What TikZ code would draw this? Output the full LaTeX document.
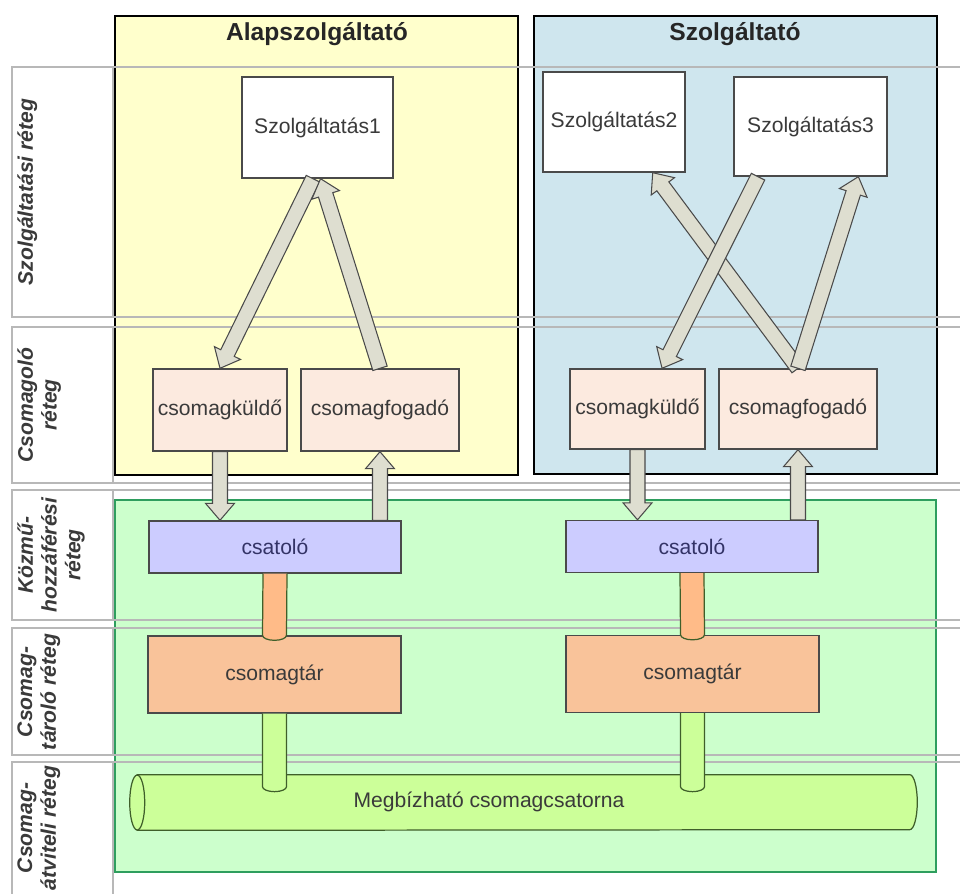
\documentclass[tikz,border=0pt]{standalone}
\usepackage{fontspec}
\setsansfont{Liberation Sans}
\usetikzlibrary{calc}
\definecolor{basefill}{HTML}{FFFFCC}
\definecolor{provfill}{HTML}{CFE6EE}
\definecolor{netfill}{HTML}{CCFFCC}
\definecolor{netline}{HTML}{2E9E5E}
\definecolor{packfill}{HTML}{FCEADF}
\definecolor{linkfill}{HTML}{CCCCFF}
\definecolor{storefill}{HTML}{F9C39A}
\definecolor{pipeorange}{HTML}{FFBB88}
\definecolor{chanfill}{HTML}{CCFF99}
\definecolor{chanline}{HTML}{3F5F2A}
\definecolor{bandline}{HTML}{B8B8B8}
\definecolor{boxline}{HTML}{4A4A4A}
\definecolor{arrowfill}{HTML}{DEDED0}
\definecolor{textgray}{HTML}{3A3A3A}
\definecolor{linktext}{HTML}{333366}
\tikzset{
  band/.style={draw=bandline,line width=0.8pt},
  layer/.style={font=\sffamily\bfseries\itshape\fontsize{12}{13.5}\selectfont,text=textgray,rotate=90,anchor=north,align=center,inner sep=0pt},
  owner/.style={draw=black,line width=1.6pt,inner sep=0pt},
  heading/.style={font=\sffamily\bfseries\fontsize{14}{16}\selectfont,text=black!85},
  service/.style={draw=boxline,fill=white,line width=0.8pt,font=\sffamily\fontsize{12}{14}\selectfont,text=textgray,inner sep=0pt},
  packer/.style={service,fill=packfill},
  link/.style={service,fill=linkfill,text=linktext,minimum width=5.04cm,minimum height=1.04cm},
  store/.style={service,fill=storefill,minimum width=5.06cm,minimum height=1.54cm},
  pipeline/.style={draw=chanline,line width=0.7pt},
  fatarr/.style={fill=arrowfill,draw=boxline,line width=0.6pt,line join=miter}
}
\newcommand{\fatarrow}[2]{%
  \coordinate (fah) at ($(#2)!0.34cm!(#1)$);
  \draw[fatarr] ($(#1)!0.15cm!90:(#2)$) -- ($(fah)!0.15cm!90:(#2)$) -- ($(fah)!0.29cm!90:(#2)$) -- (#2)
    -- ($(fah)!0.29cm!-90:(#2)$) -- ($(fah)!0.15cm!-90:(#2)$) -- ($(#1)!0.15cm!-90:(#2)$) -- cycle;}
\newcommand{\pipe}[3]{%
  \draw[pipeline,fill=#3] ($(#1)+(-12,0)$) -- ($(#2)+(-12,-5)$)
    arc[start angle=180,end angle=360,x radius=0.24cm,y radius=0.1cm] -- ($(#1)+(12,0)$);}

\begin{document}
\begin{tikzpicture}[x=0.02cm,y=-0.02cm]
\useasboundingbox (0,0) rectangle (960,893);
\clip (0,0) rectangle (960,893);
\fill[white] (0,0) rectangle (960,893);
\node[owner,fill=basefill,minimum width=8.06cm,minimum height=9.18cm] (base) at (316.5,245.5) {};
\node[owner,fill=provfill,minimum width=8.06cm,minimum height=9.16cm] (prov) at (735.5,245) {};
\node[owner,draw=netline,line width=1.2pt,fill=netfill,minimum width=16.42cm,minimum height=7.44cm] (net) at (525.5,686) {};
\node[heading] (basetitle) at (317,34) {Alapszolgáltató};
\node[heading] (provtitle) at (735,34) {Szolgáltató};
\foreach \top/\bot in {67/317,327/483,490/620,628/755,762/905}{
  \draw[band] (12,\top) rectangle (975,\bot);
  \draw[band] (12,\top) rectangle (113,\bot);
}
\node[layer] (l1) at (17,192) {Szolgáltatási réteg};
\node[layer] (l2) at (17,405) {Csomagoló\\réteg};
\node[layer] (l3) at (17,555) {Közmű-\\hozzáférési\\réteg};
\node[layer] (l4) at (17,692) {Csomag-\\tároló réteg};
\node[layer] (l5) at (17,828) {Csomag-\\átviteli réteg};
\node[service,minimum width=3.02cm,minimum height=2.02cm] (svc1) at (317.5,127.5) {Szolgáltatás1};
\node[service,minimum width=2.84cm,minimum height=2cm] (svc2) at (614,122) {Szolgáltatás2};
\node[service,minimum width=3.06cm,minimum height=1.98cm] (svc3) at (810.5,126.5) {Szolgáltatás3};
\node[packer,minimum width=2.68cm,minimum height=1.64cm] (kuldo1) at (220,410) {csomagküldő};
\node[packer,minimum width=3.16cm,minimum height=1.64cm] (fog1) at (380,410) {csomagfogadó};
\node[packer,minimum width=2.7cm,minimum height=1.6cm] (kuldo2) at (637.5,409) {csomagküldő};
\node[packer,minimum width=3.16cm,minimum height=1.6cm] (fog2) at (798,409) {csomagfogadó};
\node[link] (cat1) at (275,547) {csatoló};
\node[link] (cat2) at (692,546.5) {csatoló};
\node[store] (tar1) at (274.5,674.5) {csomagtár};
\node[store] (tar2) at (692.5,674) {csomagtár};
\node[inner sep=0pt,minimum width=15.44cm,minimum height=1.1cm] (chan) at (523.5,802.5) {};
\draw[pipeline,fill=chanfill] (chan.north west) -- (chan.north east)
  arc[start angle=90,end angle=-90,x radius=0.15cm,y radius=0.55cm] -- (chan.south west) -- cycle;
\draw[pipeline,fill=chanfill] (chan.west) ellipse[x radius=0.15cm,y radius=0.55cm];
\node[font=\sffamily\fontsize{12}{14}\selectfont,text=textgray] (chanlabel) at (489,802) {Megbízható csomagcsatorna};
\coordinate (p1end) at ($(tar1.north)+(0,5)$);
\coordinate (p2end) at ($(tar2.north)+(0,5)$);
\coordinate (g1end) at ($(tar1.south |- chan.north)+(0,17)$);
\coordinate (g2end) at ($(tar2.south |- chan.north)+(0,17)$);
\pipe{cat1.south}{p1end}{pipeorange}
\pipe{cat2.south}{p2end}{pipeorange}
\pipe{tar1.south}{g1end}{chanfill}
\pipe{tar2.south}{g2end}{chanfill}
\coordinate (s1out) at ($(svc1.south west)!0.47!(svc1.south east)$);
\coordinate (s1in) at ($(svc1.south west)!0.52!(svc1.south east)$);
\coordinate (s2in) at ($(svc2.south west)!0.77!(svc2.south east)$);
\coordinate (s3out) at ($(svc3.south west)!0.16!(svc3.south east)$);
\coordinate (s3in) at ($(svc3.south west)!0.81!(svc3.south east)$);
\coordinate (k2in) at ($(kuldo2.north west)!0.68!(kuldo2.north east)$);
\coordinate (c1in) at (kuldo1.south |- cat1.north);
\coordinate (c1out) at (fog1.south |- cat1.north);
\coordinate (c2in) at (kuldo2.south |- cat2.north);
\coordinate (c2out) at (fog2.south |- cat2.north);
\fatarrow{s1out}{kuldo1.north}
\fatarrow{fog1.north}{s1in}
\fatarrow{fog2.north}{s2in}
\fatarrow{s3out}{k2in}
\fatarrow{fog2.north}{s3in}
\fatarrow{kuldo1.south}{c1in}
\fatarrow{c1out}{fog1.south}
\fatarrow{kuldo2.south}{c2in}
\fatarrow{c2out}{fog2.south}
\end{tikzpicture}
\end{document}
